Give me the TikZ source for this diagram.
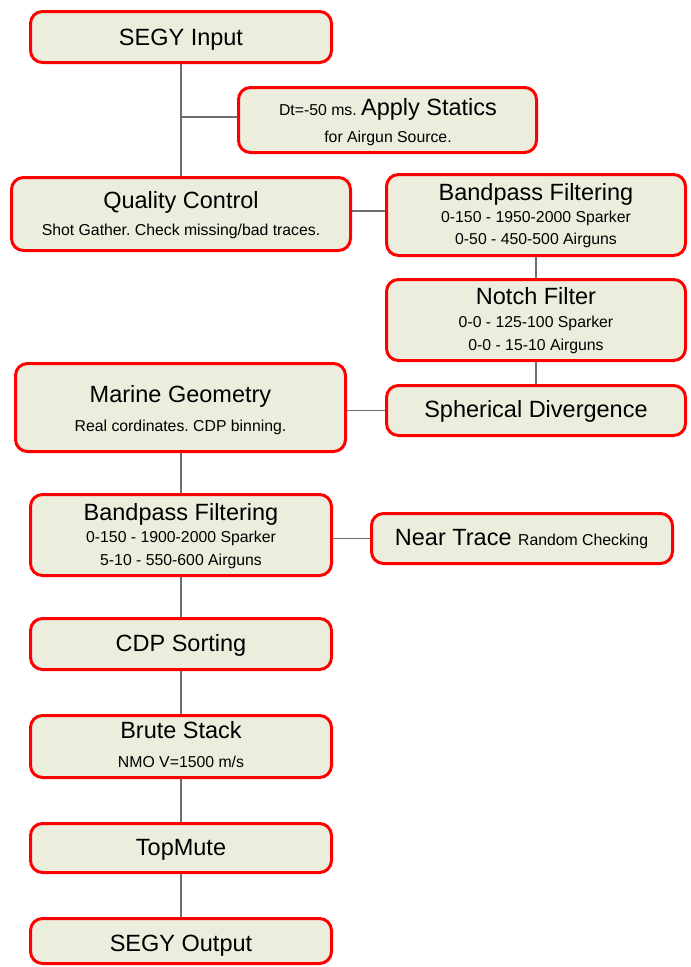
\documentclass[tikz,border=0pt]{standalone}
\usepackage{fontspec}
\setmainfont{Liberation Sans}
\frenchspacing
\definecolor{boxfill}{RGB}{235,238,221}
\definecolor{boxred}{RGB}{255,0,0}
\definecolor{linegray}{RGB}{110,110,110}
\newcommand\tfont{\fontsize{23.5}{28}\selectfont}
\newcommand\sfont{\fontsize{15.8}{19}\selectfont}
\begin{document}
\begin{tikzpicture}[x=1pt,y=-1pt,
  box/.style={draw=boxred,fill=boxfill,line width=3pt,rounded corners=12pt,inner sep=0pt},
  ttl/.style={anchor=base,inner sep=0pt,font=\tfont},
  sub/.style={anchor=base,inner sep=0pt,font=\sfont},
  conn/.style={draw=linegray,line width=1.5pt}]
\useasboundingbox (0,0) rectangle (691,967);
% boxes: outer edges (x1,y1)-(x2,y2); node sizes = outer - 3
\node[box,minimum width=301pt,minimum height=51pt] (in) at (181,37) {};
\node[box,minimum width=298pt,minimum height=65pt] (st) at (387.5,120) {};
\node[box,minimum width=339pt,minimum height=73pt] (qc) at (181,214) {};
\node[box,minimum width=299pt,minimum height=81pt] (bp1) at (536,215) {};
\node[box,minimum width=299pt,minimum height=81pt] (nf) at (536,320) {};
\node[box,minimum width=299pt,minimum height=50pt] (sd) at (536,410.5) {};
\node[box,minimum width=330pt,minimum height=88pt] (mg) at (180.5,407.5) {};
\node[box,minimum width=301pt,minimum height=81pt] (bp2) at (181,535) {};
\node[box,minimum width=301pt,minimum height=50pt] (nt) at (522,538.5) {};
\node[box,minimum width=301pt,minimum height=51pt] (cdp) at (181,644) {};
\node[box,minimum width=301pt,minimum height=62pt] (bs) at (181,746.5) {};
\node[box,minimum width=301pt,minimum height=49pt] (tm) at (181,848) {};
\node[box,minimum width=301pt,minimum height=45pt] (out) at (181,941) {};
% connectors
\coordinate (br) at (181,117);
\draw[conn] (in.south) -- (qc.north);
\draw[conn] (br) -- (br -| st.west);
\coordinate (qcr) at (352,211);
\draw[conn] (qc.east |- qcr) -- (bp1.west |- qcr);
\draw[conn] (bp1.south) -- (nf.north);
\draw[conn] (nf.south) -- (sd.north);
\draw[conn] (sd.west) -- (sd.west -| mg.east);
\draw[conn] (bp2.north |- mg.south) -- (bp2.north);
\draw[conn] (nt.west) -- (nt.west -| bp2.east);
\draw[conn] (bp2.south) -- (cdp.north);
\draw[conn] (cdp.south) -- (bs.north);
\draw[conn] (bs.south) -- (tm.north);
\draw[conn] (tm.south) -- (out.north);
% texts
\node[ttl] (in-t) at (181,45) {SEGY Input};
\node[anchor=base,inner sep=0pt] (st-t1) at (388,115) {{\sfont Dt=-50 ms. }{\tfont Apply Statics}};
\node[sub] (st-t2) at (388,142) {for Airgun Source.};
\node[ttl] (qc-t1) at (181,208) {Quality Control};
\node[sub] (qc-t2) at (181,235) {Shot Gather. Check missing/bad traces.};
\node[ttl] (bp1-t1) at (536,200) {Bandpass Filtering};
\node[sub] (bp1-t2) at (536,222) {0-150 - 1950-2000 Sparker};
\node[sub] (bp1-t3) at (536,244.5) {0-50 - 450-500 Airguns};
\node[ttl] (nf-t1) at (536,304) {Notch Filter};
\node[sub] (nf-t2) at (536,327) {0-0 - 125-100 Sparker};
\node[sub] (nf-t3) at (536,350) {0-0 - 15-10 Airguns};
\node[ttl] (sd-t) at (536,417.5) {Spherical Divergence};
\node[ttl] (mg-t1) at (180.5,402) {Marine Geometry};
\node[sub] (mg-t2) at (180.5,431) {Real cordinates. CDP binning.};
\node[ttl] (bp2-t1) at (181,520) {Bandpass Filtering};
\node[sub] (bp2-t2) at (181,542.5) {0-150 - 1900-2000 Sparker};
\node[sub] (bp2-t3) at (181,565) {5-10 - 550-600 Airguns};
\node[anchor=base,inner sep=0pt] (nt-t) at (521.5,545.5) {{\tfont Near Trace }{\sfont Random Checking}};
\node[ttl] (cdp-t) at (181,651.5) {CDP Sorting};
\node[ttl] (bs-t1) at (181,738.5) {Brute Stack};
\node[sub] (bs-t2) at (181,767.5) {NMO V=1500 m/s};
\node[ttl] (tm-t) at (181,855) {TopMute};
\node[ttl] (out-t) at (181,951) {SEGY Output};
\end{tikzpicture}
\end{document}
